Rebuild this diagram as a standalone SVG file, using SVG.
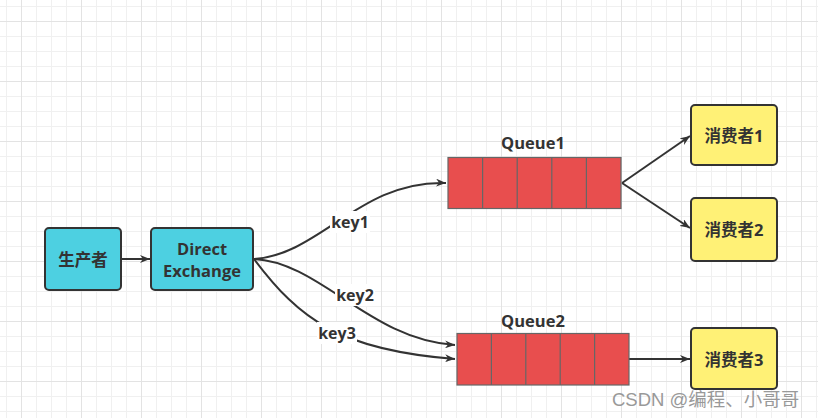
<svg xmlns="http://www.w3.org/2000/svg" width="818" height="418" viewBox="0 0 818 418">
<defs>
<pattern id="minor" x="6" y="6" width="15" height="15" patternUnits="userSpaceOnUse"><path d="M0.5,0 V15 M0,0.5 H15" stroke="#f0f0f0" stroke-width="1" fill="none"/></pattern>
<pattern id="major" x="21" y="21" width="60" height="60" patternUnits="userSpaceOnUse"><path d="M0.5,0 V60 M0,0.5 H60" stroke="#e3e3e3" stroke-width="1" fill="none"/></pattern>
<marker id="arr" viewBox="0 0 10 8" refX="10" refY="4" markerWidth="10" markerHeight="8" markerUnits="userSpaceOnUse" orient="auto"><path d="M0,0 L10,4 L0,8 L3,4 z" fill="#333"/></marker>
<style>
.edge{fill:none;stroke:#333;stroke-width:2;marker-end:url(#arr)}
.cyan{fill:#4DD0E1;stroke:#333;stroke-width:2}
.yel{fill:#FFF176;stroke:#333;stroke-width:2}
.q{fill:#E84E4E;stroke:#666;stroke-width:1.2}
.t{font-family:"Open Sans","Noto Sans CJK SC",sans-serif;font-weight:bold;font-size:16.5px;fill:#333;text-anchor:middle;dominant-baseline:central}
.k{font-family:"Open Sans","Noto Sans CJK SC",sans-serif;font-weight:bold;font-size:16px;fill:#333;text-anchor:middle;dominant-baseline:central}
.lblbg{fill:#fff}
</style>
</defs>
<rect width="818" height="418" fill="#fff"/>
<rect width="818" height="418" fill="url(#minor)"/>
<rect width="818" height="418" fill="url(#major)"/>

<g id="connectors">
<path class="edge" d="M122,259 L150,259"/>
<path class="edge" d="M254,259 C320,255 360,180 446,183"/>
<path class="edge" d="M254,259 C320,262 370,340 455,345"/>
<path class="edge" d="M254,259 C300,320 340,350 455,359"/>
<path class="edge" d="M622,183 L690,136"/>
<path class="edge" d="M622,183 L690,228"/>
<path class="edge" d="M629,359 L690,359"/>
<rect class="lblbg" x="330" y="211" width="40" height="22"/>
<text class="k" x="350" y="222">key1</text>
<rect class="lblbg" x="335" y="284" width="40" height="22"/>
<text class="k" x="355" y="295">key2</text>
<rect class="lblbg" x="317" y="322" width="40" height="22"/>
<text class="k" x="337" y="333">key3</text>
</g>

<g id="producer">
<rect class="cyan" x="45" y="228" width="76" height="62" rx="4"/>
<text class="t" x="83" y="259">生产者</text>
</g>
<g id="exchange">
<rect class="cyan" x="151" y="228" width="102" height="62" rx="4"/>
<text class="t" x="202" y="248">Direct</text>
<text class="t" x="202" y="270">Exchange</text>
</g>
<g id="queue1">
<rect class="q" x="448" y="157.5" width="173" height="51"/>
<path d="M482.6,157.5 V208.5 M517.2,157.5 V208.5 M551.8,157.5 V208.5 M586.4,157.5 V208.5" stroke="#666" stroke-width="1.2"/>
<text class="t" x="533" y="142">Queue1</text>
</g>
<g id="queue2">
<rect class="q" x="457" y="333.5" width="172" height="51.5"/>
<path d="M491.4,333.5 V385 M525.8,333.5 V385 M560.2,333.5 V385 M594.6,333.5 V385" stroke="#666" stroke-width="1.2"/>
<text class="t" x="533" y="320">Queue2</text>
</g>
<g id="consumer1">
<rect class="yel" x="691" y="105" width="86" height="60" rx="4"/>
<text class="t" x="734" y="135">消费者1</text>
</g>
<g id="consumer2">
<rect class="yel" x="691" y="198" width="86" height="63" rx="4"/>
<text class="t" x="734" y="229">消费者2</text>
</g>
<g id="consumer3">
<rect class="yel" x="691" y="328" width="86" height="61" rx="4"/>
<text class="t" x="734" y="359">消费者3</text>
</g>
<text x="612" y="406" font-family="'Liberation Sans','Noto Sans CJK SC',sans-serif" font-size="18.5" fill="#999">CSDN @编程、小哥哥</text>
</svg>
